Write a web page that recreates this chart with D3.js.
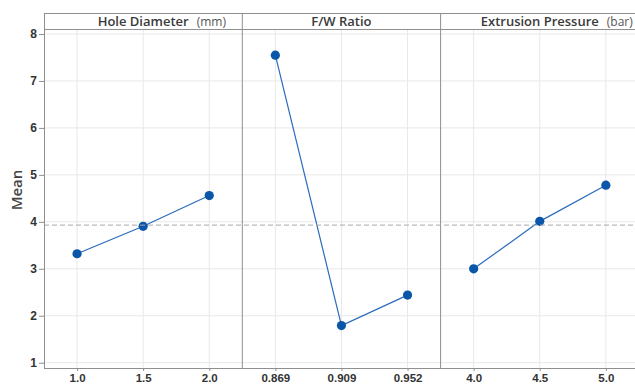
<!DOCTYPE html>
<html>
<head>
<meta charset="utf-8">
<script src="https://cdn.jsdelivr.net/npm/d3@7"></script>
<style>
  body { margin: 0; background: #fff; }
  svg { display: block; font-family: "Open Sans", "Noto Sans", sans-serif; }
</style>
</head>
<body>
<script>
// main effects plot for means
var factors = ["Hole Diameter", "F/W Ratio", "Extrusion Pressure"];
var units = ["mm", "", "bar"];
var levels = [["1.0", "1.5", "2.0"], ["0.869", "0.909", "0.952"], ["4.0", "4.5", "5.0"]];
var means = [[3.32, 3.905, 4.56], [7.55, 1.79, 2.44], [3.00, 4.01, 4.78]];
var grandMean = 3.93;
var yTicks = [1, 2, 3, 4, 5, 6, 7, 8];

var width = 635;
var height = 385;
var left = 44;
var panelW = 198.3;
var headTop = 13;
var headBottom = 29;
var bottom = 368;
var frameColor = "#8f8f8f";
var gridColor = "#e8e8e8";

var svg = d3.select("body")
	.append("svg")
	.attr("width", width)
	.attr("height", height);

var y = d3.scaleLinear()
	.domain([1, 8])
	.range([362.7, 34]);

var panel = d3.scaleBand()
	.domain(factors)
	.range([left, left + panelW * factors.length]);

// horizontal grid
svg.append("g")
	.selectAll("line")
	.data(yTicks)
	.enter()
	.append("line")
	.attr("x1", left)
	.attr("x2", width)
	.attr("y1", function(d) { return y(d) })
	.attr("y2", function(d) { return y(d) })
	.style("stroke", gridColor)
	.style("stroke-width", 1);

// y axis
var yAxis = d3.axisLeft(y).tickValues(yTicks).tickFormat(d3.format("d")).tickSize(5).tickPadding(2);
var yg = svg.append("g")
	.attr("transform", "translate(" + left + ",0)")
	.call(yAxis);
yg.select(".domain").remove();
yg.selectAll(".tick line").style("stroke", frameColor);
yg.selectAll(".tick text")
	.style("font-size", "12px")
	.style("font-weight", 600)
	.style("fill", "#333");

svg.append("text")
	.attr("transform", "translate(22,190) rotate(-90)")
	.attr("text-anchor", "middle")
	.style("font-size", "15px")
	.style("font-weight", 600)
	.style("fill", "#444")
	.text("Mean");

factors.forEach(function(f, i) {
	var x0 = panel(f);
	var x = d3.scalePoint()
		.domain(levels[i])
		.range([x0, x0 + panel.bandwidth()])
		.padding(0.5);

	var g = svg.append("g");

	// vertical grid
	g.selectAll("line.vgrid")
		.data(levels[i])
		.enter()
		.append("line")
		.attr("class", "vgrid")
		.attr("x1", function(d) { return x(d) })
		.attr("x2", function(d) { return x(d) })
		.attr("y1", headBottom)
		.attr("y2", bottom)
		.style("stroke", gridColor);

	// x axis
	var xAxis = d3.axisBottom(x).tickSize(3).tickPadding(3);
	var xg = g.append("g")
		.attr("transform", "translate(0," + bottom + ")")
		.call(xAxis);
	xg.select(".domain").remove();
	xg.selectAll(".tick line").style("stroke", frameColor);
	xg.selectAll(".tick text")
		.style("font-size", "11.5px")
		.style("font-weight", 600)
		.style("fill", "#333");

	// header
	var cx = x0 + panel.bandwidth() / 2;
	var title = g.append("text")
		.attr("x", cx)
		.attr("y", 26)
		.attr("text-anchor", "middle")
		.style("font-size", "13px")
		.style("font-weight", 600)
		.style("fill", "#3a3a3a")
		.text(f);
	if (units[i]) {
		var tw = title.node().getComputedTextLength();
		g.append("text")
			.attr("x", cx + tw / 2 + 8)
			.attr("y", 26)
			.style("font-size", "12px")
			.style("fill", "#555")
			.text("(" + units[i] + ")");
	}

	// panel divider
	if (i > 0) {
		g.append("line")
			.attr("x1", x0).attr("x2", x0)
			.attr("y1", headTop).attr("y2", bottom)
			.style("stroke", frameColor);
	}

	var pts = levels[i].map(function(d, j) { return [x(d), y(means[i][j])] });

	g.append("path")
		.attr("d", d3.line()(pts))
		.style("fill", "none")
		.style("stroke", "#2a6bbd")
		.style("stroke-width", 1.2);

	g.selectAll("circle")
		.data(pts)
		.enter()
		.append("circle")
		.attr("cx", function(d) { return d[0] })
		.attr("cy", function(d) { return d[1] })
		.attr("r", 4.6)
		.style("fill", "#0a56a8");
});

// grand mean reference line
svg.append("line")
	.attr("x1", left)
	.attr("x2", width)
	.attr("y1", y(grandMean))
	.attr("y2", y(grandMean))
	.style("stroke", "#a8a8a8")
	.style("stroke-width", 1)
	.style("stroke-dasharray", "5,3");

// frame
var frame = svg.append("g").style("stroke", frameColor).style("stroke-width", 1);
frame.append("line").attr("x1", left).attr("x2", width).attr("y1", headTop + 0.5).attr("y2", headTop + 0.5);
frame.append("line").attr("x1", left).attr("x2", width).attr("y1", headBottom + 0.5).attr("y2", headBottom + 0.5);
frame.append("line").attr("x1", left).attr("x2", width).attr("y1", bottom + 0.5).attr("y2", bottom + 0.5);
frame.append("line").attr("x1", left + 0.5).attr("x2", left + 0.5).attr("y1", headTop).attr("y2", bottom + 1);
</script>
</body>
</html>
